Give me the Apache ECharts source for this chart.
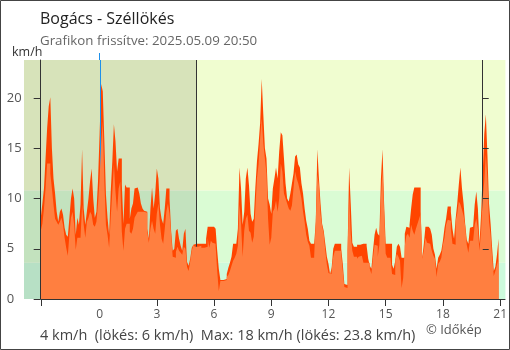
<!DOCTYPE html>
<html>
<head>
<meta charset="utf-8">
<script src="https://cdn.jsdelivr.net/npm/echarts@6/dist/echarts.min.js"></script>
<style>
  html, body { margin: 0; padding: 0; background: #fff; }
  #chart { width: 510px; height: 350px; }
</style>
</head>
<body>
<div id="chart"></div>
<script>
// 5-minute readings, hours relative to midnight (first reading 20:55 the day before)
const startHour = -37 / 12;
const stepHours = 1 / 12;

// wind gusts (km/h)
const gust = [
  8.1, 9.5, 11, 14, 17, 19.2, 20.1, 15, 12, 10.5,
  8.7, 7.7, 8.7, 9, 8.4, 7.1, 6.4, 6.2, 8.1, 10,
  11, 10, 6.4, 8.1, 7.4, 9.4, 14.9, 9, 7.4, 8.7,
  10, 11.7, 13, 10, 8.1, 8.7, 11.7, 16.4, 21.4, 20.7,
  15.7, 10.4, 8.1, 6.4, 10.7, 13.7, 17.4, 15.7, 12.7, 14,
  14,
  11.4, 7.5, 11.4, 11.1, 11.1, 8, 9, 9.5, 11, 11.1,
  11, 10.5, 9.5, 9, 8.8, 8.7, 7, 6, 9, 11.1,
  9, 10.5, 13, 12, 9, 8, 7.5, 9, 11, 11,
  10, 6.8, 4.8, 5, 6.8, 7, 6, 5.3, 4.8, 6.5,
  7, 3.7, 3.3, 4, 5.1, 5.4, 5.5, 5.5, 5.5, 5.5,
  5.5, 5.5, 5.5, 6, 7.2, 7.2, 7.2, 7.2, 7.2, 7,
  4.8, 3, 1.9, 1.9, 1.9, 2, 2.5, 3.1, 3.6, 4.2,
  5.5, 5.5, 5.5, 7, 13.1, 11, 7.4, 8.7, 12, 13.1,
  11.3, 8.5, 7.7, 8, 11.1, 13.7, 15.4, 17.5, 21.9, 18.4,
  15, 14, 10, 9.4, 8.5, 11, 12, 13.1, 12, 14.7,
  16.6, 16.3, 14, 11.5, 10, 9.7, 10.5, 11.5, 12.5, 14.2,
  14.4, 13.4, 13.1, 11.5, 10.5, 9, 7.8, 7, 5.8, 5.5,
  5.5, 5.5, 7.7, 14.9, 12, 9.5, 7.5, 6.8, 5.5, 4.2,
  3.5, 2.5, 3.1, 5, 5.5, 5.5, 5.5, 5.5, 5, 3.5,
  1.5, 1.4, 4.8, 13.1, 9.5, 5.6, 5.2, 5.2, 5.4, 5.4,
  5.5, 5.5, 5.5, 5.5, 5.3, 4, 3.3, 3, 4.8, 6.4,
  7.1, 6.5, 6.3, 12, 14.9, 9.5, 5.5, 5.5, 5.5, 5.5,
  3.4, 3, 3.8, 5.2, 5.5, 5.2, 4.1, 4.1, 6.5, 7.2,
  7.1, 7.4, 9, 10.4, 11.1, 11.1, 11.1, 11.1, 8.7, 4.1,
  5.5, 7.2, 7.2, 7.2, 7, 6.4, 5, 4.4, 3, 4.1,
  4.4, 4.8, 5.8, 7.1, 8, 9.2, 9.2, 8.7, 7, 6,
  8, 9.5, 11.4, 13.1, 11, 9.5, 7.5, 5.9, 5.5, 7.1,
  7.2, 7.2, 9.4, 10.7, 9, 5.5, 8.4, 12.4, 16.4, 18.4,
  14.4, 9.5, 7.5, 5, 2.8, 3.2, 4.4, 6
];

// mean wind speed (km/h)
const wind = [
  6.8, 7.5, 9, 11, 13.5, 13.5, 12.5, 11, 9.4, 8,
  7.7, 7.4, 7.7, 8.1, 7.4, 6.1, 5.1, 4.3, 6.4, 8.1,
  8.7, 7.4, 4.9, 6.1, 6.1, 6.1, 9.4, 7.4, 6.1, 7.7,
  8.1, 8.7, 8.4, 7.4, 7.2, 7.7, 9.4, 12, 15.4, 17.7,
  11.7, 7.4, 6.4, 5.1, 8.1, 10.7, 13.4, 10.7, 8.7, 11,
  11.7,
  6.7, 4.8, 7, 7.5, 7.5, 6.7, 6.5, 7, 8.1, 8.4,
  8.7, 8.7, 8.7, 8.7, 8.6, 8.6, 6.7, 5.6, 7, 7.8,
  7, 6.5, 8.5, 9.5, 7.4, 6, 5.5, 7, 8.7, 9.5,
  8.5, 6.5, 4.2, 4.1, 4.7, 5.2, 4.8, 4.6, 4.4, 5.2,
  5, 3.2, 2.8, 3.7, 4.8, 5.4, 5.2, 5.2, 5.2, 5.3,
  5.1, 5.1, 5.2, 5.2, 6.1, 5.1, 5.8, 5.6, 5.5, 5.3,
  2.8, 0.8, 1.8, 1.8, 1.9, 1.9, 2.2, 2.4, 2.8, 3.3,
  3.8, 4.1, 4.5, 5.3, 9.4, 7.5, 4.2, 6.8, 8, 8.4,
  6.8, 6.6, 5.6, 6.2, 9, 12, 13.4, 16, 18, 15.5,
  14, 12.5, 8, 5.4, 6.1, 8.7, 9, 9.8, 8.7, 10,
  13.5, 12.7, 10.5, 10, 9.5, 9, 8.8, 9.3, 11, 12.7,
  12, 11.5, 10.8, 10, 8.7, 7.7, 6.4, 5.7, 5.3, 4.1,
  4.1, 4.3, 7.7, 12.4, 11.3, 8.5, 7.3, 6.5, 4.8, 3.4,
  2.6, 2.5, 3, 4.2, 4.8, 4.8, 4.8, 4.8, 4.5, 2.8,
  1.2, 1.1, 4.8, 10.4, 6.5, 4.8, 4.2, 4.2, 4, 4.2,
  4.3, 4.2, 3.6, 3.6, 3.6, 3.6, 3, 2.5, 4.1, 5.4,
  5.3, 4.2, 5.4, 10, 13, 8.7, 4.5, 4.1, 4.1, 4.1,
  2.5, 2.4, 3.8, 4.5, 4.2, 3.8, 1.1, 2.1, 5.3, 6.3,
  6.5, 6.1, 7.4, 6.8, 6.4, 7, 7.5, 8, 8.5, 4,
  4.8, 6.1, 5.6, 5.5, 5.5, 4.8, 4.3, 4, 2.2, 3.5,
  3.7, 4.1, 5.4, 6.1, 7.4, 7.9, 7.8, 7, 5.5, 5.4,
  7.8, 8.5, 9.7, 9.4, 8.9, 8.3, 7.3, 5.4, 4.6, 5.8,
  5.8, 5.8, 7.4, 8, 7, 4.8, 6.8, 10, 11.7, 14.4,
  12, 7.7, 6.4, 4.1, 2.3, 2.8, 3.4, 4
];

// axis ticks
const hourTicks = [0, 3, 6, 9, 12, 15, 18, 21];
const valueTicks = [0, 5, 10, 15, 20];

// summary figures
const currentWind = 4;
const currentGust = 6;
const maxWind = 18;
const maxGust = 23.8;

// sun times and midnight (hours), speed bands (1 m/s and 3 m/s in km/h)
const sunTimes = [5.07, 20.04];
const sunrise = sunTimes[0];
const midnight = 0;
const bandLimits = [0, 3.6, 10.8];
const bandColors = ['#ccfadc', '#dafcd4', '#f0fdd0'];

// horizontal extent of the plot (hours)
const xMin = -3.963;
const xMax = 21.277;

const toPairs = arr => arr.map((v, i) => [startHour + i * stepHours, v]);

const font = '"Open Sans", "Noto Sans", sans-serif';
const axisDark = '#333';
const midnightBlue = '#1e90ea';

const chart = echarts.init(document.getElementById('chart'));

const bandAreas = bandLimits.map((lo, i) => [
  { yAxis: lo, itemStyle: { color: bandColors[i] } },
  { yAxis: i + 1 < bandLimits.length ? bandLimits[i + 1] : maxGust }
]);

// full-height vertical rule at an x value
function verticalRule(params, api) {
  const x = api.value(0);
  const top = api.coord([x, maxGust]);
  const bottom = api.coord([x, 0]);
  const px = Math.round(top[0]) + 0.5;
  return {
    type: 'line',
    shape: { x1: px, y1: top[1], x2: px, y2: bottom[1] },
    style: { stroke: api.visual('color'), lineWidth: 1 }
  };
}

chart.setOption({
  animation: false,
  textStyle: { fontFamily: font },
  title: [
    { text: 'Bogács - Széllökés', left: 40, top: 11, padding: 0,
      textStyle: { fontSize: 16, fontWeight: 'normal', color: '#222', fontFamily: font } },
    { text: 'Grafikon frissítve: 2025.05.09 20:50', left: 40, top: 35, padding: 0,
      textStyle: { fontSize: 13.3, fontWeight: 'normal', color: '#666', fontFamily: font } },
    { text: 'km/h', left: 12, top: 46, padding: 0,
      textStyle: { fontSize: 12.5, fontWeight: 'normal', color: '#333', fontFamily: font } },
    { text: currentWind + ' km/h  (lökés: ' + currentGust + ' km/h)  Max: ' + maxWind +
            ' km/h (lökés: ' + maxGust + ' km/h)',
      left: 40, top: 328, padding: 0,
      textStyle: { fontSize: 14.5, fontWeight: 'normal', color: '#444', fontFamily: font } },
    { text: '© Időkép', left: 426, top: 324, padding: 0,
      textStyle: { fontSize: 13, fontWeight: 'normal', color: '#555', fontFamily: font } }
  ],
  grid: { left: 24, right: 2, top: 60, bottom: 51, containLabel: false },
  xAxis: [
    {
      type: 'value', min: xMin, max: xMax,
      axisLine: { show: false, onZero: false },
      splitLine: { show: false },
      axisTick: { show: true, length: 7, customValues: [startHour].concat(hourTicks.filter(h => h !== midnight)),
                  lineStyle: { color: axisDark, width: 1 } },
      axisLabel: { customValues: hourTicks, margin: 10, color: '#555', fontSize: 12, fontFamily: font },
      z: 10
    },
    {
      type: 'value', min: xMin, max: xMax,
      axisLine: { show: false, onZero: false },
      splitLine: { show: false },
      axisTick: { show: true, length: 7, customValues: [midnight], lineStyle: { color: midnightBlue, width: 1 } },
      axisLabel: { show: false },
      z: 10
    }
  ],
  yAxis: [
    {
      type: 'value', min: 0, max: maxGust, offset: -16.7,
      axisLine: { show: true, onZero: false, lineStyle: { color: axisDark, width: 1 } },
      splitLine: { show: false },
      axisTick: { show: true, length: 7, customValues: valueTicks, lineStyle: { color: axisDark } },
      axisLabel: { customValues: valueTicks, align: 'left', margin: 34, color: '#555', fontSize: 13, fontFamily: font },
      z: 10
    },
    {
      type: 'value', min: 0, max: maxGust, offset: -16.7,
      axisLine: { show: false, onZero: false },
      splitLine: { show: false },
      axisTick: { show: true, inside: true, length: 6, customValues: valueTicks, lineStyle: { color: axisDark } },
      axisLabel: { show: false },
      z: 10
    }
  ],
  series: [
    {
      name: 'Széllökés',
      type: 'line',
      step: 'end',
      data: toPairs(gust),
      showSymbol: false,
      symbol: 'none',
      lineStyle: { width: 0 },
      areaStyle: { color: '#ff4500', opacity: 1 },
      z: 2,
      silent: true,
      markArea: {
        silent: true,
        z: 0.6,
        data: [[
          { xAxis: xMin, itemStyle: { color: 'rgba(0,0,0,0.1)' } },
          { xAxis: sunrise }
        ]]
      }
    },
    {
      name: 'Napkelte, napnyugta',
      type: 'custom',
      renderItem: verticalRule,
      data: sunTimes.map(t => [t]),
      encode: { x: 0 },
      itemStyle: { color: axisDark },
      z: 3,
      silent: true
    },
    {
      name: 'Éjfél',
      type: 'custom',
      renderItem: verticalRule,
      data: [[midnight]],
      encode: { x: 0 },
      itemStyle: { color: midnightBlue },
      z: 3,
      silent: true
    },
    {
      name: 'Szél',
      type: 'line',
      step: 'end',
      data: toPairs(wind),
      showSymbol: false,
      symbol: 'none',
      lineStyle: { width: 0 },
      areaStyle: { color: '#ff7f40', opacity: 1 },
      z: 4,
      silent: true,
      markArea: {
        silent: true,
        z: 0.5,
        data: bandAreas
      },
      markLine: {
        silent: true,
        z: 6,
        symbol: ['none', 'none'],
        label: { show: false },
        emphasis: { disabled: true },
        lineStyle: { color: axisDark, width: 1, type: 'solid' },
        data: [[
          { coord: [startHour, 0] },
          { coord: [xMax, 0] }
        ]]
      }
    }
  ],
  graphic: [
    { type: 'rect', shape: { x: 0.5, y: 0.5, width: 509, height: 349 },
      style: { fill: 'none', stroke: '#444', lineWidth: 1 }, z: 100, silent: true }
  ]
});
</script>
</body>
</html>
